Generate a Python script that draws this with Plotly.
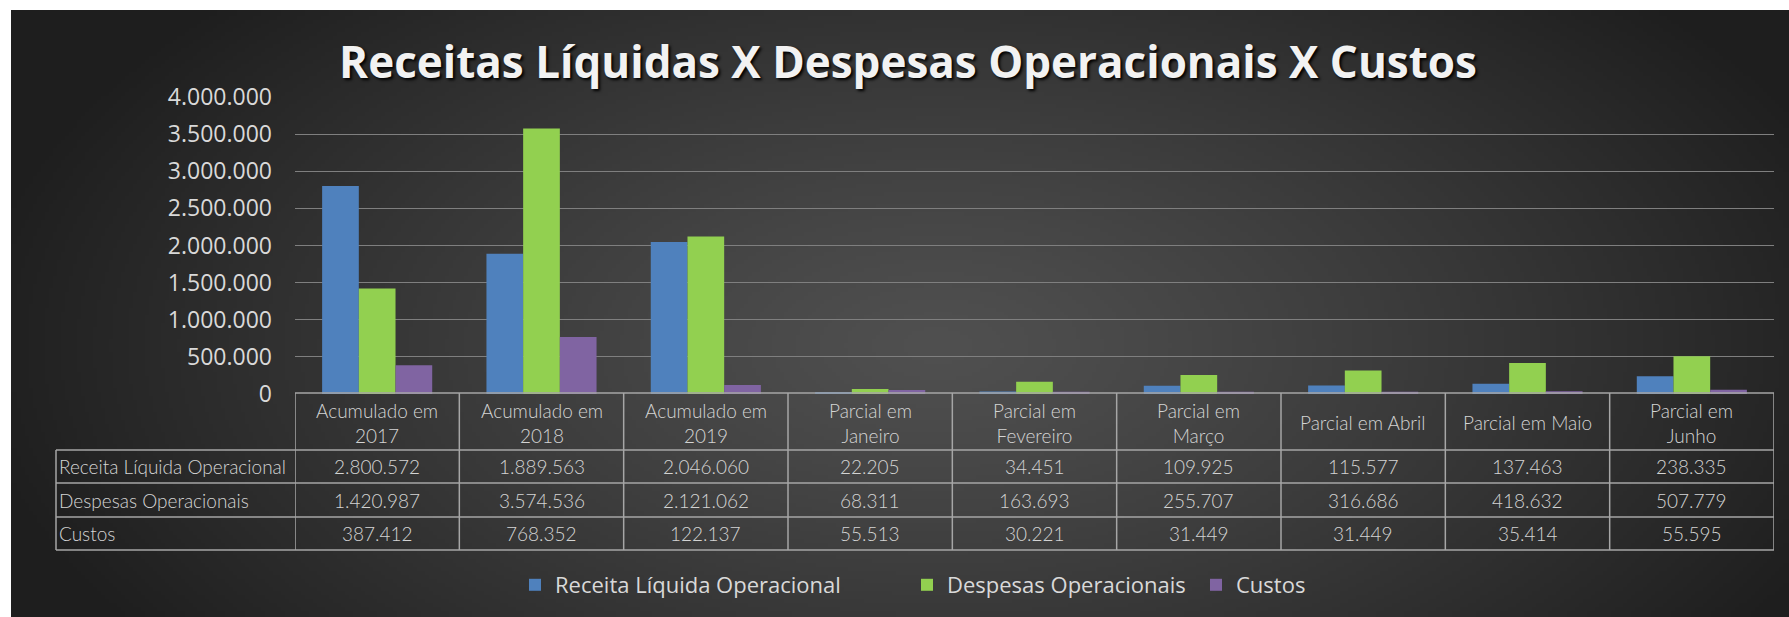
import base64, struct, zlib
import numpy as np
import plotly.graph_objects as go

W, H = 1789, 617

# ---------------- data ----------------
categories = ["Acumulado em 2017", "Acumulado em 2018", "Acumulado em 2019",
              "Parcial em Janeiro", "Parcial em Fevereiro", "Parcial em Março",
              "Parcial em Abril", "Parcial em Maio", "Parcial em Junho"]
header_labels = ["Acumulado em<br>2017", "Acumulado em<br>2018", "Acumulado em<br>2019",
                 "Parcial em<br>Janeiro", "Parcial em<br>Fevereiro", "Parcial em<br>Março",
                 "Parcial em Abril", "Parcial em Maio", "Parcial em<br>Junho"]
series_names = ["Receita Líquida Operacional", "Despesas Operacionais", "Custos"]
receita = [2800572, 1889563, 2046060, 22205, 34451, 109925, 115577, 137463, 238335]
despesas = [1420987, 3574536, 2121062, 68311, 163693, 255707, 316686, 418632, 507779]
custos = [387412, 768352, 122137, 55513, 30221, 31449, 31449, 35414, 55595]
colors = ["#4F81BD", "#92D050", "#8064A2"]
title_text = "Receitas Líquidas X Despesas Operacionais X Custos"

series = [receita, despesas, custos]


def fmt(v):
    return f"{v:,}".replace(",", ".")


def py(px):
    return 1 - px / H


def pxx(px):
    return px / W


# ---------------- background gradient image ----------------
def png_uri(arr):
    h, w, _ = arr.shape
    raw = b"".join(b"\x00" + arr[i].tobytes() for i in range(h))

    def chunk(t, d):
        c = struct.pack(">I", len(d)) + t + d
        return c + struct.pack(">I", zlib.crc32(t + d) & 0xffffffff)

    png = b"\x89PNG\r\n\x1a\n" + chunk(b"IHDR", struct.pack(">IIBBBBB", w, h, 8, 2, 0, 0, 0)) \
        + chunk(b"IDAT", zlib.compress(raw, 9)) + chunk(b"IEND", b"")
    return "data:image/png;base64," + base64.b64encode(png).decode()


gw, gh = 445, 152
yy, xx = np.mgrid[0:gh, 0:gw]
cx, cy = gw * 0.52, gh * 0.55
r = np.sqrt(((xx - cx) / (gw * 0.55)) ** 2 + ((yy - cy) / (gh * 0.85)) ** 2)
val = 80 - 50 * np.clip(r, 0, 1) ** 1.2
img = np.stack([val, val, val], axis=-1).astype(np.uint8)
bg_uri = png_uri(img)

# ---------------- figure ----------------
legend_ids = ["legend", "legend2", "legend3"]
legend_left_px = [515, 907, 1196]

fig = go.Figure()
for name, vals, col, lid in zip(series_names, series, colors, legend_ids):
    fig.add_trace(go.Bar(x=categories, y=vals, name=name, marker_color=col,
                         marker_line_width=0, legend=lid))

legend_font = dict(family="Open Sans", size=22, color="#d9d9d9")
legends = {}
for lid, lx in zip(legend_ids, legend_left_px):
    legends[lid] = dict(orientation="h", x=pxx(lx), xanchor="left", y=py(585),
                        yanchor="middle", font=legend_font, bgcolor="rgba(0,0,0,0)",
                        itemclick=False, itemwidth=30)

x_dom = [pxx(295), pxx(1774)]
fig.update_layout(
    width=W, height=H,
    margin=dict(l=0, r=0, t=0, b=0),
    paper_bgcolor="white",
    plot_bgcolor="rgba(0,0,0,0)",
    separators=",.",
    barmode="group", bargap=0.33, bargroupgap=0,
    title=dict(text=title_text, x=pxx(908), xanchor="center", y=py(63), yanchor="middle",
               font=dict(family="Open Sans", size=44, color="#f2f2f2",
                         weight="bold", shadow="2px 2px 3px #000")),
    xaxis=dict(domain=x_dom, showticklabels=False, showgrid=False, zeroline=False,
               showline=False, ticks="", range=[-0.5, len(categories) - 0.5]),
    yaxis=dict(domain=[py(394), py(97)], range=[0, 4000000], dtick=500000,
               tickformat=",d", showgrid=True, gridcolor="#7f7f7f", gridwidth=1,
               zeroline=False, showline=False, automargin=False,
               ticklabelstandoff=22,
               tickfont=dict(family="Open Sans", size=23, color="#d9d9d9")),
    images=[dict(source=bg_uri, xref="paper", yref="paper", x=pxx(11), y=py(10),
                 sizex=1 - pxx(11), sizey=py(10), sizing="stretch", layer="below",
                 xanchor="left", yanchor="top")],
    showlegend=True,
    **legends,
)

# ---------------- data table (shapes + annotations) ----------------
line = dict(color="#a6a6a6", width=1.5)
n = len(categories)
top, hdr_bot = 393, 450
row_lines = [450, 483, 517, 550]
left_px = 56

shapes = []
shapes.append(dict(type="line", xref="paper", yref="paper", x0=x_dom[0], x1=x_dom[1],
                   y0=py(top), y1=py(top), line=line))
for yl in row_lines:
    shapes.append(dict(type="line", xref="paper", yref="paper", x0=pxx(left_px), x1=x_dom[1],
                       y0=py(yl), y1=py(yl), line=line))
for k in range(n + 1):
    shapes.append(dict(type="line", xref="x", yref="paper", x0=k - 0.5, x1=k - 0.5,
                       y0=py(row_lines[-1]), y1=py(top), line=line))
shapes.append(dict(type="line", xref="paper", yref="paper", x0=pxx(left_px), x1=pxx(left_px),
                   y0=py(row_lines[-1]), y1=py(hdr_bot), line=line))
fig.update_layout(shapes=shapes)

tfont = dict(family="Lato", size=19, color="#d4d4d4", weight=300)
ann = []
for i, lab in enumerate(header_labels):
    ann.append(dict(xref="x", yref="paper", x=i, y=py((top + hdr_bot) / 2 + 1), text=lab,
                    showarrow=False, font=tfont, xanchor="center", yanchor="middle"))
for r_i, (name, vals) in enumerate(zip(series_names, series)):
    yc = py((row_lines[r_i] + row_lines[r_i + 1]) / 2)
    ann.append(dict(xref="paper", yref="paper", x=pxx(57), y=yc, text=name, showarrow=False,
                    font=tfont, xanchor="left", yanchor="middle"))
    for i, v in enumerate(vals):
        ann.append(dict(xref="x", yref="paper", x=i, y=yc, text=fmt(v), showarrow=False,
                        font=tfont, xanchor="center", yanchor="middle"))
fig.update_layout(annotations=ann)

fig.write_html("out.html")
